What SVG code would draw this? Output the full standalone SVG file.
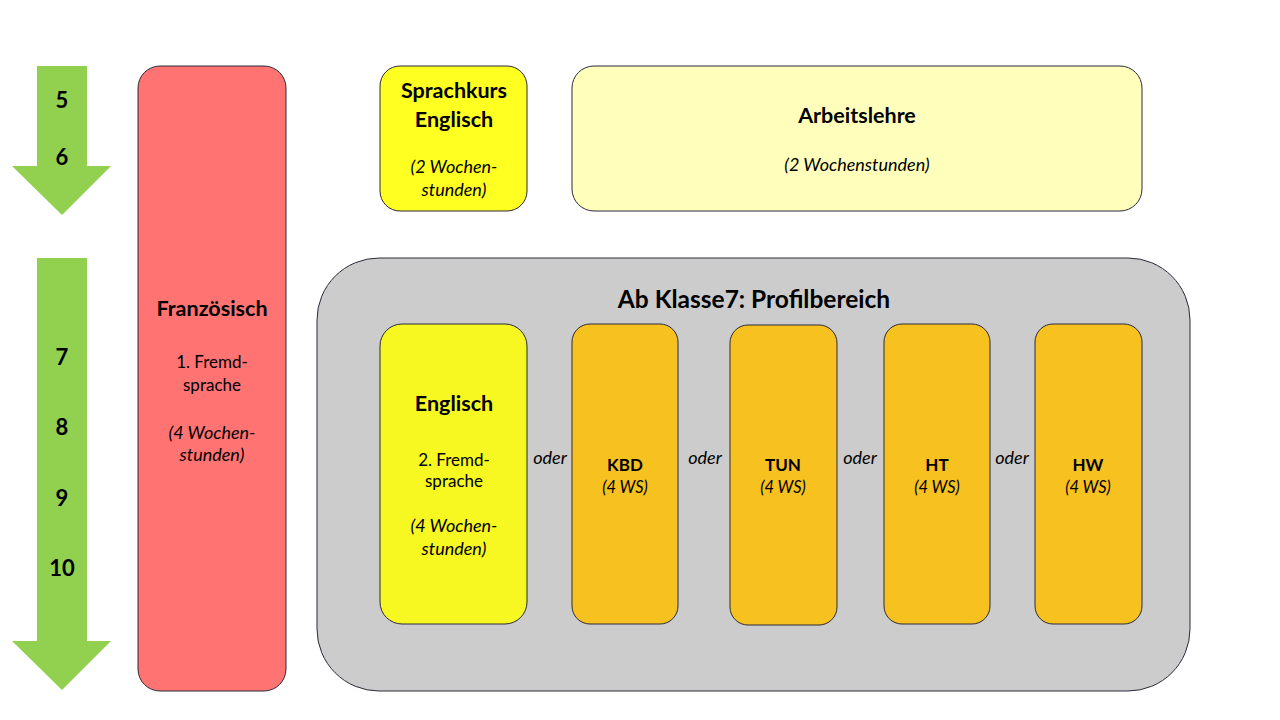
<svg xmlns="http://www.w3.org/2000/svg" width="1280" height="720" viewBox="0 0 1280 720">
<style>
.b{stroke:#2a2a3a;stroke-width:1}
.t{font-family:Lato,"Liberation Sans",sans-serif;fill:#000;text-anchor:middle}
.h{font-weight:bold;font-size:21.5px}
.n{font-weight:bold;font-size:22px}
.s{font-size:17px}
.i{font-style:italic;font-size:18px}
.k{font-weight:bold;font-size:17px}
.w{font-style:italic;font-size:16.5px}
.o{font-style:italic;font-size:18px}
.arrow{fill:#92D050}
</style>
<rect width="1280" height="720" fill="#fff"/>
<g id="arrow1"><polygon class="arrow" points="37,66 87,66 87,166 111,166 62,215 12,166 37,166"/>
<text class="t n" x="62" y="108">5</text><text class="t n" x="62" y="165">6</text></g>
<g id="arrow2"><polygon class="arrow" points="37,258 87,258 87,641 111,641 62,690 12,641 37,641"/>
<text class="t n" x="62" y="365">7</text><text class="t n" x="62" y="435">8</text><text class="t n" x="62" y="506">9</text><text class="t n" x="62" y="576">10</text></g>
<g id="franzoesisch"><rect class="b" x="138" y="66" width="148" height="625" rx="22" fill="#FF7373"/>
<text class="t h" x="212" y="316">Französisch</text>
<text class="t s" x="212" y="368">1. Fremd-</text><text class="t s" x="212" y="391">sprache</text>
<text class="t i" x="212" y="439">(4 Wochen-</text><text class="t i" x="212" y="461">stunden)</text></g>
<g id="sprachkurs"><rect class="b" x="380" y="66" width="147" height="145" rx="20" fill="#FFFF21"/>
<text class="t h" x="454" y="98">Sprachkurs</text><text class="t h" x="454" y="127">Englisch</text>
<text class="t i" x="454" y="173">(2 Wochen-</text><text class="t i" x="454" y="196">stunden)</text></g>
<g id="arbeitslehre"><rect class="b" x="572" y="66" width="570" height="145" rx="22" fill="#FFFFBB"/>
<text class="t h" x="857" y="123">Arbeitslehre</text><text class="t i" x="857" y="171">(2 Wochenstunden)</text></g>
<g id="profilbereich"><rect class="b" x="317" y="258" width="873" height="433" rx="62" fill="#CCCCCC"/>
<text class="t" x="754" y="308" font-weight="bold" font-size="24.5">Ab Klasse7: Profilbereich</text></g>
<g id="englisch"><rect class="b" x="380" y="324" width="147" height="300" rx="22" fill="#F7F722"/>
<text class="t h" x="454" y="411">Englisch</text>
<text class="t s" x="454" y="466">2. Fremd-</text><text class="t s" x="454" y="487">sprache</text>
<text class="t i" x="454" y="532">(4 Wochen-</text><text class="t i" x="454" y="555">stunden)</text></g>
<g id="kbd"><rect class="b" x="572" y="324" width="106" height="300" rx="18" fill="#F7C120"/>
<text class="t k" x="625" y="471">KBD</text><text class="t w" x="625" y="493">(4 WS)</text></g>
<g id="tun"><rect class="b" x="730" y="325" width="107" height="300" rx="18" fill="#F7C120"/>
<text class="t k" x="783" y="471">TUN</text><text class="t w" x="783" y="493">(4 WS)</text></g>
<g id="ht"><rect class="b" x="884" y="324" width="106" height="300" rx="18" fill="#F7C120"/>
<text class="t k" x="937" y="471">HT</text><text class="t w" x="937" y="493">(4 WS)</text></g>
<g id="hw"><rect class="b" x="1035" y="324" width="107" height="300" rx="18" fill="#F7C120"/>
<text class="t k" x="1088" y="471">HW</text><text class="t w" x="1088" y="493">(4 WS)</text></g>
<g id="connectors">
<text class="t o" x="550" y="464">oder</text>
<text class="t o" x="705" y="464">oder</text>
<text class="t o" x="860" y="464">oder</text>
<text class="t o" x="1012" y="464">oder</text>
</g>
</svg>
